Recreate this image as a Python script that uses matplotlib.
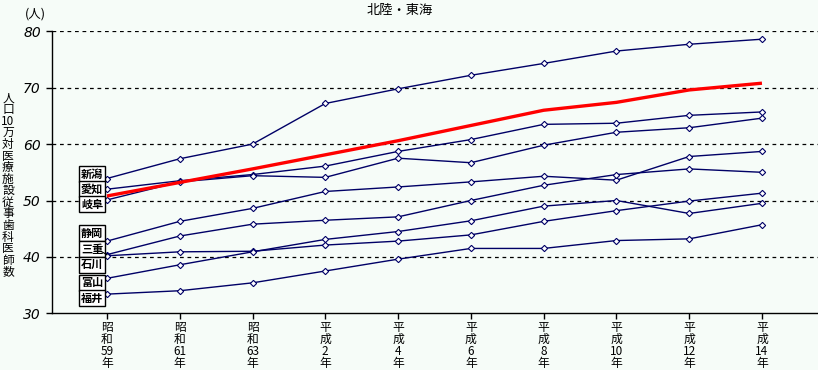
import matplotlib
matplotlib.use("Agg")
import matplotlib.pyplot as plt

plt.rcParams['font.family'] = ['Noto Sans CJK JP', 'DejaVu Sans']

eras = ["昭", "昭", "昭", "平", "平", "平", "平", "平", "平", "平"]
era2 = ["和", "和", "和", "成", "成", "成", "成", "成", "成", "成"]
nums = ["59", "61", "63", "2", "4", "6", "8", "10", "12", "14"]

national = [50.8, 53.2, 55.6, 58.1, 60.6, 63.3, 66.0, 67.4, 69.6, 70.8]

prefs = ["新潟", "愛知", "岐阜", "静岡", "三重", "石川", "富山", "福井"]
niigata = [53.9, 57.4, 60.0, 67.2, 69.8, 72.2, 74.3, 76.5, 77.7, 78.6]
aichi = [52.0, 53.5, 54.6, 56.1, 58.7, 60.8, 63.5, 63.7, 65.1, 65.7]
gifu = [50.1, 53.3, 54.4, 54.1, 57.5, 56.7, 59.8, 62.1, 62.9, 64.6]
shizuoka = [42.8, 46.3, 48.6, 51.6, 52.4, 53.3, 54.3, 53.6, 57.8, 58.7]
mie = [40.4, 43.7, 45.8, 46.5, 47.1, 50.0, 52.7, 54.6, 55.6, 55.0]
ishikawa = [40.2, 40.9, 41.0, 42.1, 42.8, 43.9, 46.3, 48.2, 49.9, 51.3]
toyama = [36.2, 38.6, 40.9, 43.1, 44.5, 46.4, 49.0, 50.0, 47.7, 49.5]
fukui = [33.4, 34.0, 35.4, 37.5, 39.6, 41.5, 41.5, 42.9, 43.2, 45.7]
series = [niigata, aichi, gifu, shizuoka, mie, ishikawa, toyama, fukui]
label_y = [54.7, 52.0, 49.4, 44.2, 41.4, 38.6, 35.4, 32.7]

bg = '#f6fcf8'
navy = '#000066'

fig = plt.figure(figsize=(8.18, 3.70), dpi=100, facecolor=bg)
ax = fig.add_axes([52/818, 1-313.3/370, 1-52/818, (313.3-31.3)/370])
ax.set_facecolor(bg)

x = list(range(len(nums)))
for s in series:
    ax.plot(x, s, color=navy, lw=1.0, marker='D', ms=3.2, mfc='white',
            mec=navy, mew=0.8, zorder=3, clip_on=False)
ax.plot(x, national, color='#ff0000', lw=2.4, zorder=4, solid_capstyle='butt')

ax.set_xlim(-0.755, 9.77)
ax.set_ylim(30, 80)
ax.set_yticks([30, 40, 50, 60, 70, 80])
ax.set_yticklabels(['30', '40', '50', '60', '70', '80'], fontstyle='italic',
                   fontsize=10, family=['DejaVu Sans'])
for v in [40, 50, 60, 70, 80]:
    ax.axhline(v, color='black', lw=0.9, ls=(0, (3, 3)), zorder=1)

ax.set_xticks(x)
ax.set_xticklabels([])
for i, parts in enumerate(zip(eras, era2, nums, ["年"] * len(nums))):
    for part, off in zip(parts, [10.2, 18.8, 27.4, 35.8]):
        ax.annotate(part, xy=(i, 0), xycoords=('data', 'axes fraction'),
                    xytext=(0, -off), textcoords='offset points',
                    ha='center', va='center', fontsize=8.5, annotation_clip=False)

for sp in ['top', 'right']:
    ax.spines[sp].set_visible(False)
ax.spines['left'].set_linewidth(1.0)
ax.spines['bottom'].set_linewidth(1.0)
ax.tick_params(axis='y', direction='out', length=4, width=1.0, pad=4)
ax.tick_params(axis='x', direction='out', length=4, width=1.0, pad=3)

for name, ly, s in zip(prefs, label_y, series):
    ax.text(-0.205, ly, name, ha='center', va='center', fontsize=8,
            fontweight='bold', zorder=5,
            bbox=dict(boxstyle='square,pad=0.15', fc='white', ec='black', lw=1.0))
# leader line for 三重
ax.plot([-0.07, 0], [40.9, mie[0]], color='black', lw=0.8, zorder=5)

fig.text(400/818, 1-10/370, "北陸・東海", ha='center', va='center', fontsize=9.5)
fig.text(35/818, 1-14/370, "(人)", ha='center', va='center', fontsize=9)
ylab = "\n".join(["人", "口", "10", "万", "対", "医", "療", "施", "設", "従", "事", "歯", "科", "医", "師", "数"])
fig.text(8/818, 1-185/370, ylab, ha='center', va='center', fontsize=8.5,
         linespacing=0.86)

fig.savefig("out.png", dpi=100, facecolor=bg)
